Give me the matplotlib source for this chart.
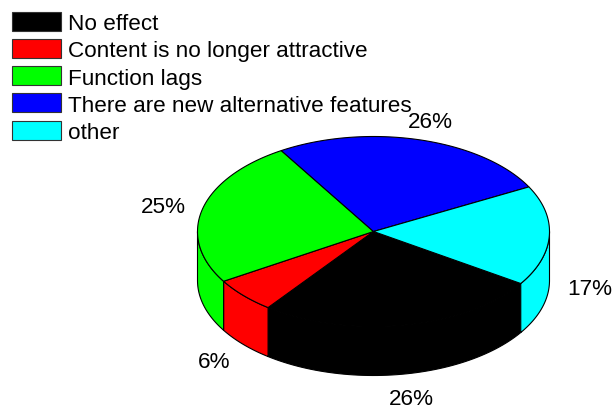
import numpy as np
import matplotlib.pyplot as plt
from matplotlib.patches import Polygon, Rectangle

plt.rcParams['font.family'] = ['Liberation Sans', 'DejaVu Sans']

categories = ['No effect', 'Content is no longer attractive', 'Function lags',
              'There are new alternative features', 'other']
shares = [26, 6, 25, 26, 17]
colors = ['#000000', '#ff0000', '#00ff00', '#0000ff', '#00ffff']

# ellipse geometry of the tilted pie (pixel units)
cx, cy = 373.5, 232.5
a, b = 176, 95
depth = 49
start = -33.2  # degrees, slices go clockwise

fig = plt.figure(figsize=(6.16, 4.10), dpi=100)
ax = fig.add_axes([0, 0, 1, 1])
ax.set_xlim(0, 616)
ax.set_ylim(410, 0)
ax.axis('off')


def ring(t, dz=0.0):
    t = np.radians(t)
    return np.column_stack([cx + a * np.cos(t), cy - b * np.sin(t) + dz])


fracs = np.array(shares) / np.sum(shares)
edges = start - np.concatenate([[0], np.cumsum(fracs)]) * 360

# side walls: only the front half (sin < 0) shows
for i, col in enumerate(colors):
    t1, t2 = edges[i], edges[i + 1]
    for k in range(-2, 2):
        lo, hi = max(t2, -180 + 360 * k), min(t1, 360 * k)
        if hi <= lo:
            continue
        t = np.linspace(hi, lo, 60)
        pts = np.vstack([ring(t), ring(t[::-1], depth)])
        ax.add_patch(Polygon(pts, closed=True, fc=col, ec='black', lw=0.8))

# top face
for i, col in enumerate(colors):
    t = np.linspace(edges[i], edges[i + 1], 80)
    pts = np.vstack([[cx, cy], ring(t)])
    ax.add_patch(Polygon(pts, closed=True, fc=col, ec='black', lw=0.8))

# percentage labels
for i, v in enumerate(shares):
    mid = np.radians((edges[i] + edges[i + 1]) / 2)
    x = cx + 1.23 * a * np.cos(mid)
    y = cy - 1.23 * b * np.sin(mid)
    if np.sin(mid) < 0:
        y += depth
    ax.text(x, y + 8, f'{v}%', ha='center', va='baseline', fontsize=16.2)

# legend without frame
for i, (lab, col) in enumerate(zip(categories, colors)):
    yc = 22.2 + 27.2 * i
    ax.add_patch(Rectangle((12, yc - 9.5), 49, 19, fc=col, ec='#333333', lw=0.8))
    ax.text(68, yc + 8, lab, ha='left', va='baseline', fontsize=16.2)

fig.savefig('out.png', dpi=100)
